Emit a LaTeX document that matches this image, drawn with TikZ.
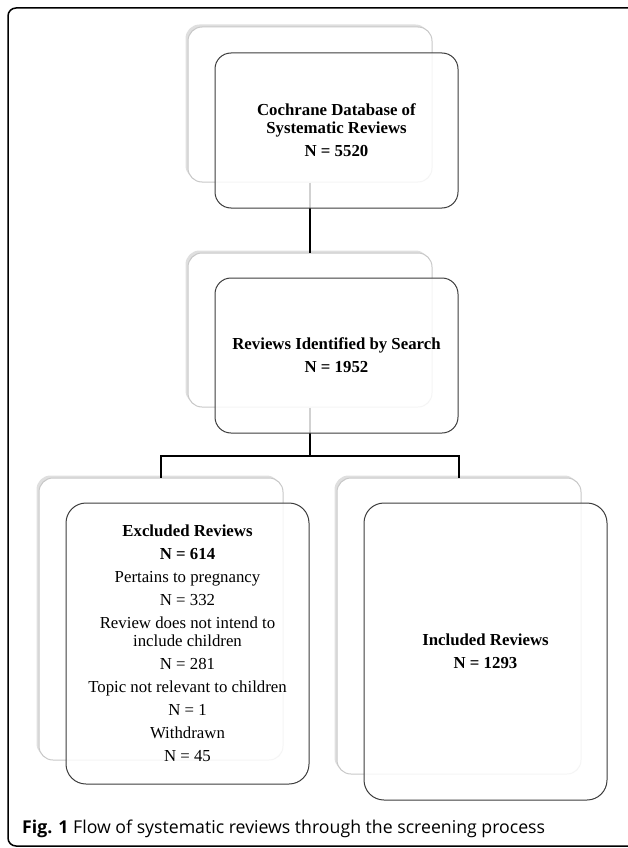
\documentclass[tikz,border=0pt]{standalone}
\usepackage{fontspec}
\setmainfont{Liberation Serif}
\newfontfamily\capfont{Open Sans}
\usepackage{xcolor}
\usetikzlibrary{shadows}

\definecolor{backline}{HTML}{C8C8C8}
\definecolor{frontline}{HTML}{3C3C3C}

\tikzset{
  backbox/.style={draw=backline, line width=1, fill=white, rounded corners=14,
    drop shadow={shadow xshift=-2.5, shadow yshift=-2.5, opacity=0.25, fill=gray}},
  frontbox/.style={draw=frontline, line width=1, fill=white, fill opacity=0.82,
    text opacity=1, rounded corners=16, align=center, inner sep=0,
    font=\fontsize{16.8}{18}\selectfont},
  link/.style={line width=2.5, black}
}

\begin{document}
\begin{tikzpicture}[x=1pt, y=-1pt]
    \useasboundingbox (0,0) rectangle (627,848);

    % outer frame (cut off on the right)
    \draw[line width=1.5, rounded corners=8] (628,8) -- (8,8) -- (8,846) -- (628,846);

    % back boxes
    \foreach \name/\xc/\yc/\w/\h in {dbback/310/104.5/244/155, searchback/310/330/244/154,
        exclback/161/619/244/282, inclback/459/626/244/296} {
      \node[backbox, minimum width=\w, minimum height=\h] (\name) at (\xc,\yc) {};
    }

    % connectors
    \coordinate (split) at (310,456);
    \draw[link] (dbback.south) -- (searchback.north);
    \draw[link] (searchback.south) -- (split);
    \draw[link] (exclback.north) |- (split) -| (inclback.north);

    % front boxes with the text
    \node[frontbox, minimum width=243, minimum height=155] (db) at (336.5,130.5)
      {\textbf{Cochrane Database of}\\\textbf{Systematic Reviews}\\[5pt]\textbf{N = 5520}};
    \node[frontbox, minimum width=243, minimum height=155] (search) at (336.5,355.5)
      {\textbf{Reviews Identified by Search}\\[5pt]\textbf{N = 1952}};
    \node[frontbox, minimum width=243, minimum height=281, rounded corners=20] (excl) at (187.5,643.5)
      {\textbf{Excluded Reviews}\\[5pt]\textbf{N = 614}\\[5pt]
       Pertains to pregnancy\\[5pt]N = 332\\[5pt]
       Review does not intend to\\include children\\[5pt]N = 281\\[5pt]
       Topic not relevant to children\\[5pt]N = 1\\[5pt]
       Withdrawn\\[5pt]N = 45};
    \node[frontbox, minimum width=243, minimum height=297, rounded corners=20] (incl) at (485.5,651.5)
      {\textbf{Included Reviews}\\[5pt]\textbf{N = 1293}};

    % caption
    \node[anchor=base west, inner sep=0, font=\capfont\fontsize{17.7}{19}\selectfont] (caption) at (22,833)
      {\textbf{Fig. 1} Flow of systematic reviews through the screening process};
\end{tikzpicture}
\end{document}
